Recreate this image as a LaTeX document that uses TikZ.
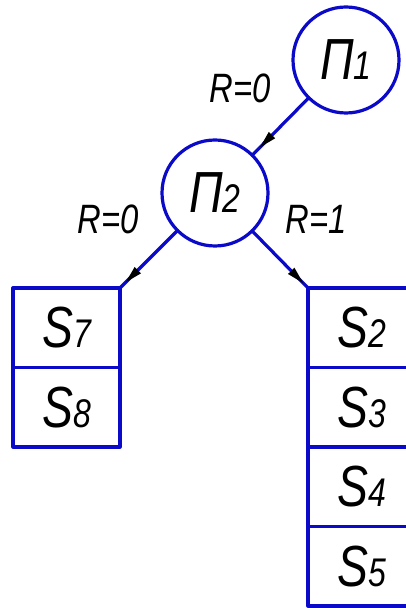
\documentclass[tikz,border=0pt]{standalone}
\usepackage{fontspec}
\setmainfont{Liberation Sans}[FakeStretch=0.8]
\usetikzlibrary{arrows.meta,positioning,decorations.markings}
\definecolor{schemeblue}{RGB}{10,10,200}
\newcommand{\sym}[2]{{\fontsize{58}{58}\selectfont\itshape #1}{\fontsize{40}{40}\selectfont\itshape #2}}

\begin{document}
\begin{tikzpicture}[x=1pt,y=1pt,line cap=round,line join=round,
  pnode/.style={circle,draw=schemeblue,line width=3.2pt,minimum size=106pt,inner sep=0pt,outer sep=0pt},
  sbox/.style={rectangle,draw=schemeblue,line width=3.2pt,minimum width=107pt,minimum height=79.5pt,inner sep=0pt,outer sep=0pt},
  link/.style={draw=schemeblue,line width=3.2pt,postaction={decorate},
    decoration={markings,mark=at position #1 with {\fill[black] (0pt,0pt) -- (-17pt,4.5pt) -- (-17pt,-4.5pt) -- cycle;}}},
  rlabel/.style={font=\fontsize{41}{41}\selectfont\itshape}]
\useasboundingbox (0,0) rectangle (406,608);
% decision nodes
\node[pnode] (p1) at (346,548) {\sym{П}{1}};
\node[pnode] (p2) at (215,415) {\sym{П}{2}};
% left stack
\node[sbox] (s7) at (66.5,280.25) {\sym{S}{7}};
\node[sbox,below=0pt of s7] (s8) {\sym{S}{8}};
% right stack
\node[sbox] (s2) at (361.5,280.25) {\sym{S}{2}};
\node[sbox,below=0pt of s2] (s3) {\sym{S}{3}};
\node[sbox,below=0pt of s3] (s4) {\sym{S}{4}};
\node[sbox,below=0pt of s4] (s5) {\sym{S}{5}};
% links
\path[link=-11pt] (p1) -- (p2);
\path[link=-8pt] (p2) -- (s7.north east);
\path[link=-7pt] (p2) -- (s2.north west);
% conditions
\node[rlabel] (r1) at (240,520) {R=0};
\node[rlabel] (r2) at (108,389) {R=0};
\node[rlabel] (r3) at (316,389) {R=1};
\end{tikzpicture}
\end{document}
